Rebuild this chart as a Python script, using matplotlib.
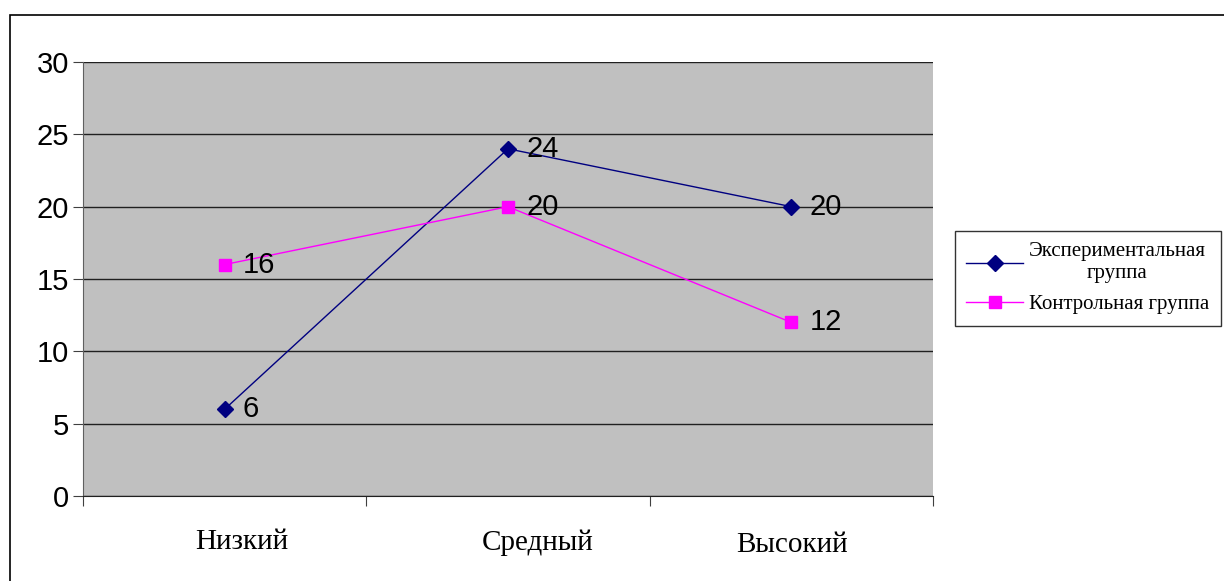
import matplotlib
matplotlib.use("Agg")
import matplotlib.pyplot as plt
import matplotlib.transforms as mtransforms
from matplotlib.patches import Rectangle

# data
categories = ["Низкий", "Средный", "Высокий"]
experimental = [6, 24, 20]
control = [16, 20, 12]
series_names = ["Экспериментальная\nгруппа", "Контрольная группа"]
y_ticks = [0, 5, 10, 15, 20, 25, 30]

SANS = "Liberation Sans"
SERIF = "Liberation Serif"

fig = plt.figure(figsize=(12.24, 5.81), dpi=100)
# outer chart border (top + left edges visible)
fig.patches.append(Rectangle((10 / 1224, -0.1), 1.2, (581 - 15) / 581 + 0.1,
                             transform=fig.transFigure, fill=False,
                             edgecolor="black", linewidth=1.2))

ax = fig.add_axes([83 / 1224, 1 - 496 / 581, 850 / 1224, 434 / 581])
ax.set_facecolor("#c0c0c0")

x = list(range(len(categories)))
ax.plot(x, experimental, color="#000080", linewidth=1, marker="D",
        markersize=8, markerfacecolor="#000080", markeredgecolor="#000080",
        label=series_names[0], zorder=3)
ax.plot(x, control, color="#ff00ff", linewidth=1, marker="s",
        markersize=8, markerfacecolor="#ff00ff", markeredgecolor="#ff00ff",
        label=series_names[1], zorder=3)

for xs, ys in ((x, experimental), (x, control)):
    for xi, yi in zip(xs, ys):
        ax.annotate(str(yi), (xi, yi), xytext=(13, 0), textcoords="offset points",
                    va="center", ha="left", fontsize=21, family=SANS, zorder=4)

ax.set_xlim(-0.5, len(categories) - 0.5)
ax.set_ylim(0, 30)
ax.set_yticks(y_ticks)
ax.set_yticklabels([str(t) for t in y_ticks], fontsize=21, family=SANS)
ax.set_xticks([i - 0.5 for i in range(len(categories) + 1)])
ax.set_xticklabels([])
ax.set_xticks(x, minor=True)
ax.set_xticklabels(categories, minor=True, fontsize=21, family=SERIF)
ax.tick_params(axis="x", which="minor", length=0, pad=24)
ax.tick_params(axis="x", which="major", length=7, direction="out", color="#404040")
ax.tick_params(axis="y", length=7, direction="out", pad=3, color="#404040")

# the original category labels sit a little off-centre
for lbl, (dx, dy) in zip(ax.get_xticklabels(minor=True), [(17, 0), (30, 0), (1, -3)]):
    lbl.set_transform(lbl.get_transform() +
                      mtransforms.ScaledTranslation(dx / 100, dy / 100, fig.dpi_scale_trans))

ax.grid(axis="y", color="#202020", linewidth=1)
ax.set_axisbelow(True)
for side in ("top", "right"):
    ax.spines[side].set_visible(False)
ax.spines["left"].set_color("#606060")
ax.spines["bottom"].set_color("#202020")

leg = ax.legend(loc="upper left", bbox_to_anchor=(955 / 1224, 1 - 231 / 581),
                bbox_transform=fig.transFigure, frameon=True, fancybox=False,
                prop={"family": SERIF, "size": 15}, handlelength=2.7,
                borderpad=0.55, borderaxespad=0, labelspacing=0.55,
                handletextpad=0.3)
leg.get_frame().set_edgecolor("black")
leg.get_frame().set_linewidth(1)
for t in leg.get_texts():
    t.set_multialignment("center")

fig.savefig("out.png", dpi=100)
